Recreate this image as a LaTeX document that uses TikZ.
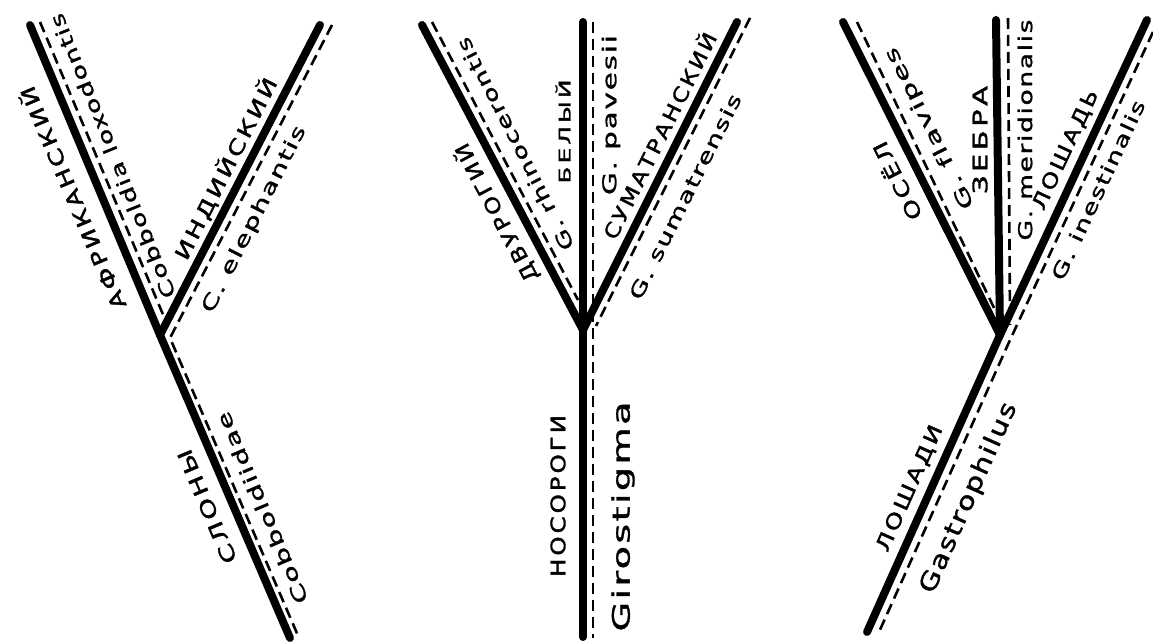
\documentclass[tikz,border=0pt]{standalone}
\usepackage{fontspec}
\usepackage{graphicx}
\newfontfamily\cyrf[LetterSpace=12,FakeBold=1.6,Ligatures=NoCommon]{DejaVu Sans}
\newfontfamily\latf[LetterSpace=6,FakeBold=1.2,Ligatures=NoCommon]{DejaVu Sans}
\newsavebox\lbox
\newcommand\fitto[2]{\sbox\lbox{#2}\resizebox{#1pt}{\ht\lbox}{\usebox\lbox}}
\newcommand\lbl[6]{\node[#1, rotate=#4] (#2) at (#3) {\fitto{#5}{#6}};}
\tikzset{
  branch/.style={line width=8pt, line cap=round, line join=round},
  trace/.style={line width=2.6pt, dash pattern=on 11pt off 6pt},
  lab/.style={inner sep=0pt, outer sep=0pt},
  capt/.style={lab, font=\cyrf\fontsize{20}{20}\selectfont},
  capsmall/.style={lab, font=\cyrf\fontsize{16}{16}\selectfont},
  latn/.style={lab, font=\latf\fontsize{19}{19}\selectfont},
  latbig/.style={lab, font=\latf\fontsize{24}{24}\selectfont},
}
\begin{document}
\begin{tikzpicture}[x=1pt,y=-1pt]
\useasboundingbox (0,0) rectangle (1153,642);
\fill[white] (0,0) rectangle (1153,642);
% ---------- tree 1: elephants
\coordinate (L1) at (30,25);
\coordinate (J1) at (160,335);
\coordinate (R1) at (320,25);
\coordinate (B1) at (290,638);
\draw[branch] (L1) -- (J1) -- (B1);
\draw[branch] (R1) -- (J1);
\coordinate (dL1a) at (40,22);
\coordinate (dL1b) at (167,324);
\draw[trace] (dL1a) -- (dL1b);
\coordinate (dR1a) at (332,25);
\coordinate (dR1j) at (170,338);
\coordinate (dR1b) at (299,638);
\draw[trace] (dR1a) -- (dR1j) -- (dR1b);
\lbl{capt}{t1a}{71.5,198.5}{113}{240}{АФРИКАНСКИЙ}
\lbl{latn}{t1b}{112.5,156}{112}{305}{Cobboldia loxodontis}
\lbl{capt}{t1c}{225.5,168.5}{63}{201}{ИНДИЙСКИЙ}
\lbl{latn}{t1d}{254.5,219.5}{63}{207}{C. elephantis}
\lbl{capt}{t1e}{207,506.5}{113}{122}{СЛОНЫ}
\lbl{latn}{t1f}{262,508}{113}{206}{Cobboldiidae}
% ---------- tree 2: rhinoceroses
\coordinate (L2) at (422,25);
\coordinate (J2) at (583,330);
\coordinate (M2) at (583,22);
\coordinate (R2) at (737,22);
\coordinate (B2) at (583,637);
\draw[branch] (M2) -- (B2);
\draw[branch] (L2) -- (J2);
\draw[branch] (R2) -- (J2);
\coordinate (dL2a) at (432,22);
\coordinate (dL2b) at (578,300);
\draw[trace] (dL2a) -- (dL2b);
\coordinate (dM2a) at (593,22);
\coordinate (dM2b) at (593,638);
\draw[trace] (dM2a) -- (dM2b);
\coordinate (dR2a) at (750,18);
\coordinate (dR2b) at (596,326);
\draw[trace] (dR2a) -- (dR2b);
\lbl{capt}{t2a}{496,213}{118}{154}{ДВУРОГИЙ}
\lbl{latn}{t2b}{515,144}{117}{236}{G. rhinocerontis}
\lbl{capsmall}{t2c}{563,131.5}{90}{104}{БЕЛЫЙ}
\lbl{latn}{t2d}{611,115}{90}{160}{G. pavesii}
\lbl{capt}{t2e}{658.5,135}{63.4}{228}{СУМАТРАНСКИЙ}
\lbl{latn}{t2f}{685,196.5}{63.4}{227}{G. sumatrensis}
\lbl{capt}{t2g}{558,496}{90}{162}{НОСОРОГИ}
\lbl{latbig}{t2h}{623,516.5}{90}{230}{Girostigma}
% ---------- tree 3: horses
\coordinate (L3) at (843,22);
\coordinate (J3) at (1000,335);
\coordinate (M3) at (996,20);
\coordinate (R3) at (1147,20);
\coordinate (B3) at (867,632);
\draw[branch] (R3) -- (J3) -- (B3);
\draw[branch] (L3) -- (J3);
\draw[branch] (M3) -- (J3);
\coordinate (dL3a) at (857,22);
\coordinate (dL3b) at (995,310);
\draw[trace] (dL3a) -- (dL3b);
\coordinate (dM3a) at (1008,18);
\coordinate (dM3b) at (1010,325);
\draw[trace] (dM3a) -- (dM3b);
\coordinate (dR3a) at (1153,32);
\coordinate (dR3j) at (1010,340);
\coordinate (dR3b) at (879,632);
\draw[trace] (dR3a) -- (dR3j) -- (dR3b);
\lbl{capt}{t3a}{896,181.5}{116.6}{85}{ОСЁЛ}
\lbl{latn}{t3b}{930,128}{116.6}{178}{G. flavipes}
\lbl{capt}{t3c}{980,140}{90}{108}{ЗЕБРА}
\lbl{latn}{t3d}{1025,130}{90}{221}{G. meridionalis}
\lbl{capt}{t3e}{1066,150}{65}{130}{ЛОШАДЬ}
\lbl{latn}{t3f}{1098,190}{65}{196}{G. inestinalis}
\lbl{capt}{t3g}{910,488.5}{66}{136}{ЛОШАДИ}
\lbl{latbig}{t3h}{969,498}{66}{206}{Gastrophilus}
\end{tikzpicture}
\end{document}
